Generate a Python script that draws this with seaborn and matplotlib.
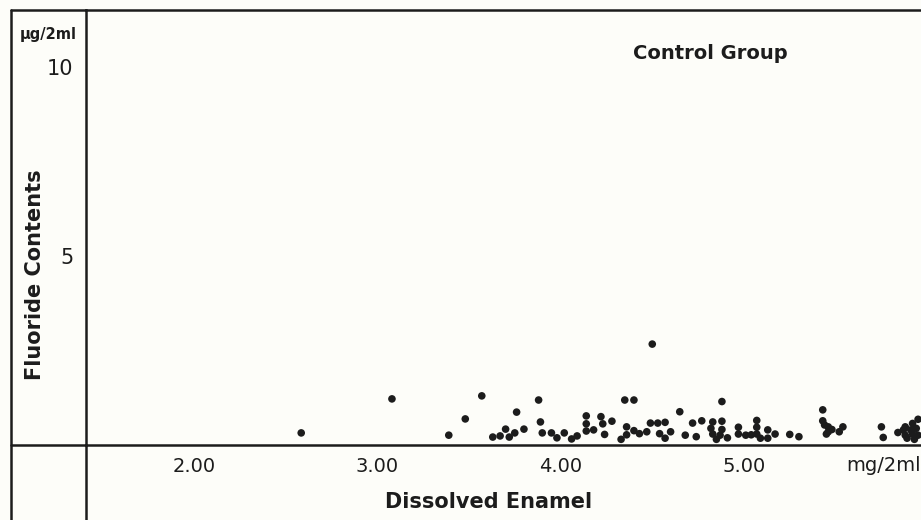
import matplotlib
matplotlib.use("Agg")
import matplotlib.pyplot as plt
from matplotlib.lines import Line2D
import numpy as np
import pandas as pd
import seaborn as sns

# Dissolved enamel (mg/2ml) and fluoride content (µg/2ml), control group
dissolved = [
    2.585, 3.08, 3.39, 3.48, 3.57, 3.63, 3.67, 3.70, 3.72, 3.75, 3.76, 3.80,
    3.88, 3.89, 3.90, 3.95, 3.98, 4.02, 4.06, 4.09, 4.14, 4.14, 4.14, 4.18,
    4.22, 4.23, 4.24, 4.28, 4.33, 4.35, 4.36, 4.36, 4.40, 4.40, 4.43, 4.47,
    4.49, 4.50, 4.53, 4.54, 4.57, 4.57, 4.60, 4.65, 4.68, 4.72, 4.74, 4.77,
    4.82, 4.83, 4.83, 4.85, 4.87, 4.88, 4.88, 4.88, 4.91, 4.97, 4.97, 5.01,
    5.04, 5.07, 5.07, 5.07, 5.09, 5.13, 5.13, 5.17, 5.25, 5.30, 5.43, 5.43,
    5.44, 5.45, 5.46, 5.46, 5.48, 5.52, 5.54, 5.75, 5.76, 5.84, 5.87, 5.88,
    5.88, 5.89, 5.91, 5.92, 5.92, 5.93, 5.94, 5.95, 5.95,
]
fluoride = [
    0.32, 1.22, 0.26, 0.69, 1.30, 0.21, 0.24, 0.42, 0.21, 0.32, 0.87, 0.42,
    1.19, 0.61, 0.32, 0.32, 0.19, 0.32, 0.16, 0.24, 0.77, 0.56, 0.37, 0.40,
    0.75, 0.56, 0.28, 0.63, 0.15, 1.19, 0.48, 0.27, 1.19, 0.38, 0.30, 0.35,
    0.58, 2.67, 0.58, 0.30, 0.60, 0.18, 0.35, 0.88, 0.26, 0.58, 0.22, 0.64,
    0.44, 0.61, 0.29, 0.15, 0.26, 1.15, 0.63, 0.41, 0.19, 0.47, 0.29, 0.26,
    0.27, 0.65, 0.47, 0.29, 0.18, 0.40, 0.18, 0.29, 0.28, 0.22, 0.93, 0.64,
    0.53, 0.29, 0.48, 0.35, 0.41, 0.35, 0.48, 0.48, 0.20, 0.33, 0.40, 0.48,
    0.26, 0.18, 0.40, 0.57, 0.29, 0.15, 0.44, 0.68, 0.26,
]

x_ticks = [2, 3, 4, 5]
x_tick_labels = ["2.00", "3.00", "4.00", "5.00"]
y_ticks = list(range(0, 11))
y_tick_labels = ["" if v not in (5, 10) else str(v) for v in y_ticks]

df = pd.DataFrame({"Dissolved Enamel": dissolved, "Fluoride Contents": fluoride})

sns.set_style("white")
plt.rcParams["font.family"] = ["DejaVu Sans"]

ink = "#1c1c1c"
paper = "#fdfdf9"

W, H = 921, 520
fig = plt.figure(figsize=(W / 100, H / 100), dpi=100, facecolor=paper)

ax_left, ax_bottom, ax_top = 86, 445, 10
ax = fig.add_axes([ax_left / W, (H - ax_bottom) / H,
                   1 - ax_left / W, (ax_bottom - ax_top) / H])
ax.set_facecolor(paper)

sns.scatterplot(data=df, x="Dissolved Enamel", y="Fluoride Contents", ax=ax,
                color=ink, s=30, edgecolor="none", linewidth=0, clip_on=False)

ax.set_xlim(1.411, 5.966)
ax.set_ylim(0, 11.51)

ax.set_xticks(x_ticks)
ax.set_xticklabels(x_tick_labels)
ax.set_yticks(y_ticks)
ax.set_yticklabels(y_tick_labels)

ax.tick_params(axis="x", direction="out", length=7, width=1.6, color=ink,
               labelsize=14, labelcolor=ink, pad=1.5)
ax.tick_params(axis="y", direction="out", length=5, width=1.6, color=ink,
               labelsize=15, labelcolor=ink, pad=4)

for name, sp in ax.spines.items():
    sp.set_color(ink)
    sp.set_linewidth(1.8)
ax.spines["right"].set_visible(False)

ax.set_xlabel("")
ax.set_ylabel("")

ax.text(0.748, 0.9, "Control Group", transform=ax.transAxes, fontsize=14,
        fontweight="bold", color=ink, ha="center", va="center")
ax.text(1.0, -0.048, "mg/2ml", transform=ax.transAxes, fontsize=14,
        color=ink, ha="right", va="center")

# Outer frame lines that extend beyond the axes
def fig_line(x0, y0, x1, y1):
    fig.add_artist(Line2D([x0 / W, x1 / W], [1 - y0 / H, 1 - y1 / H],
                          transform=fig.transFigure, color=ink, lw=1.8))

fig_line(11, 10, 11, H)          # left border
fig_line(11, 10, ax_left, 10)    # top border, left cell
fig_line(11, ax_bottom, ax_left, ax_bottom)   # baseline, left cell
fig_line(ax_left, ax_bottom, ax_left, H)      # y-axis below baseline

fig.text(48 / W, 1 - 34 / H, "µg/2ml", fontsize=10.5, fontweight="bold",
         color=ink, ha="center", va="center")
fig.text(35 / W, 1 - 275 / H, "Fluoride Contents", fontsize=15,
         fontweight="bold", color=ink, rotation=90, ha="center", va="center")
fig.text(489 / W, 1 - 502 / H, "Dissolved Enamel", fontsize=15,
         fontweight="bold", color=ink, ha="center", va="center")

fig.savefig("out.png", dpi=100, facecolor=paper)
